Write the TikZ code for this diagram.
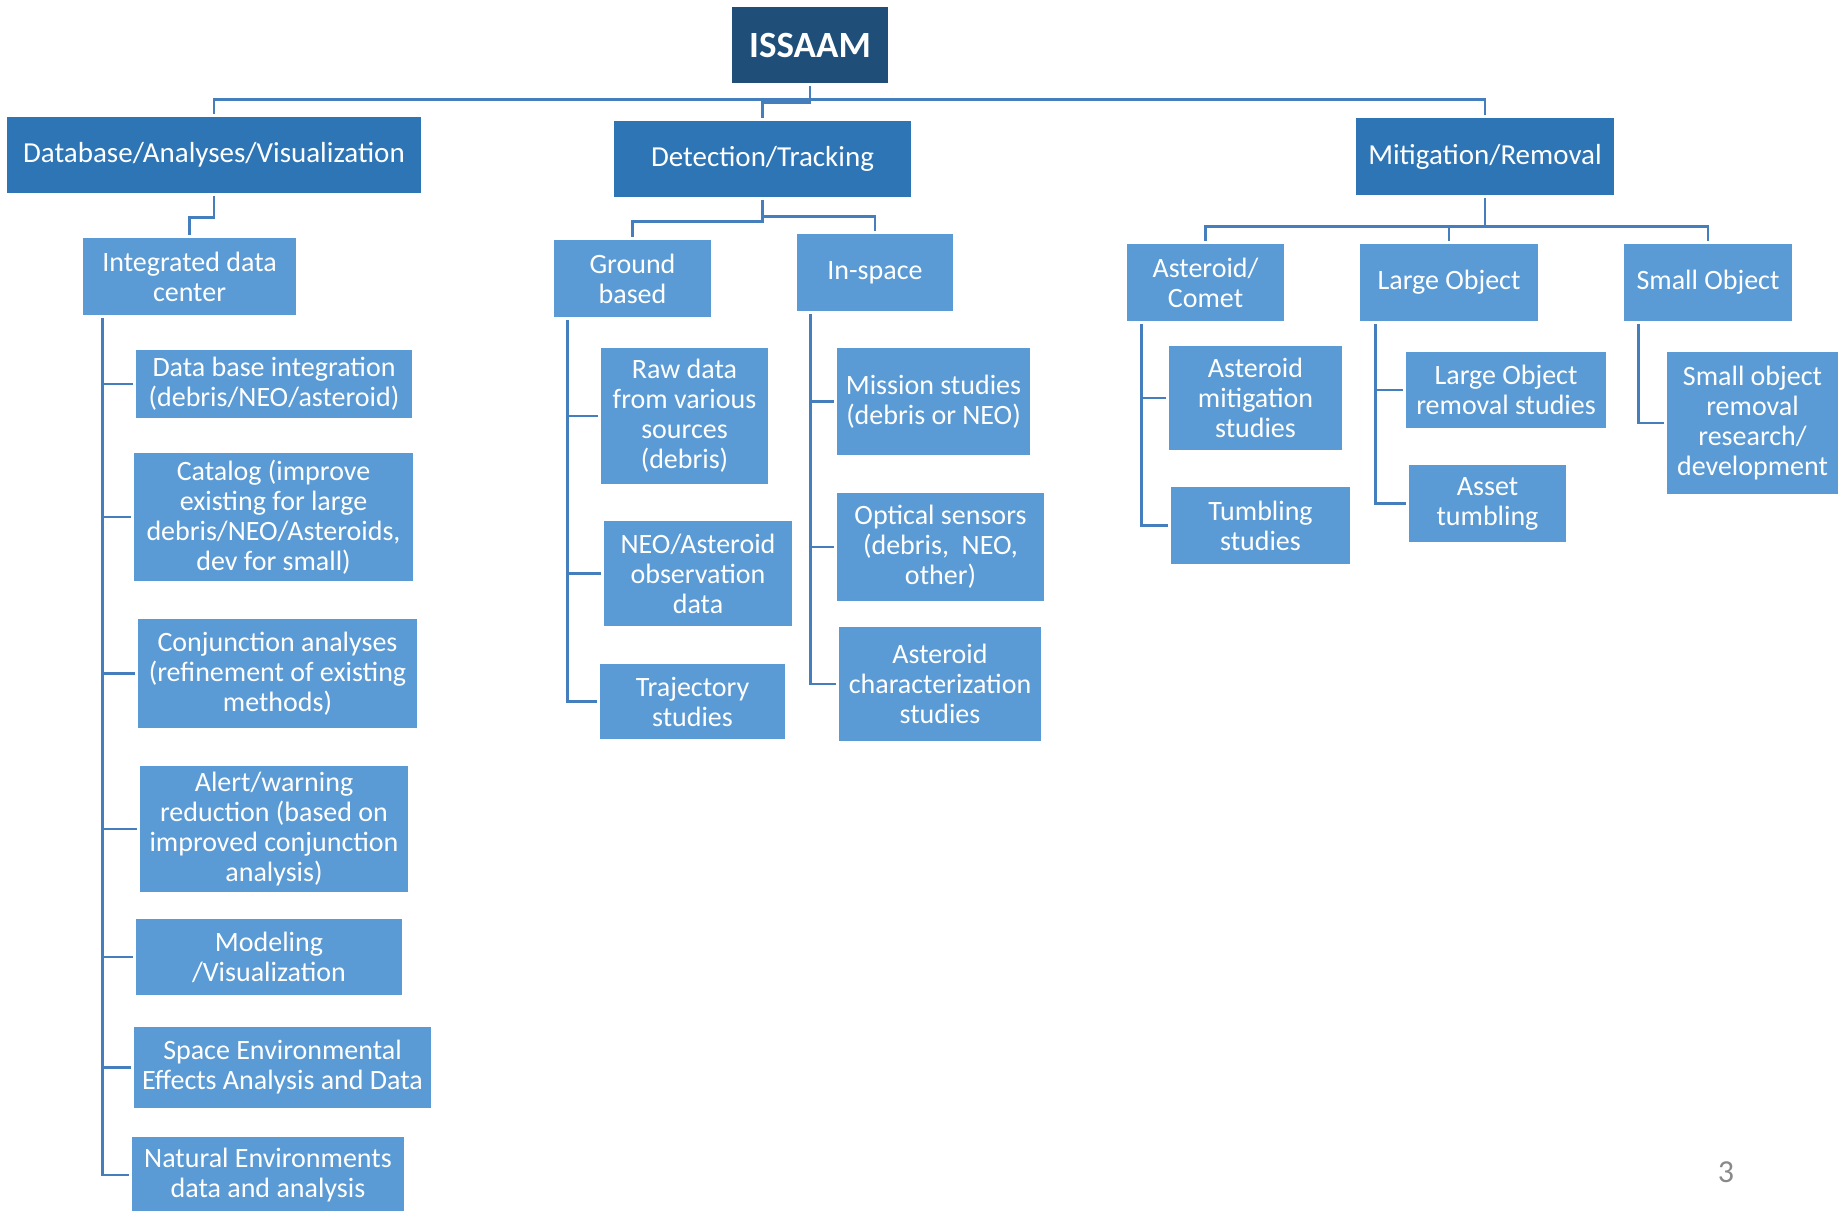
\documentclass[tikz,border=0pt]{standalone}
\usepackage{fontspec}
\setmainfont{Carlito}
\usepackage{xcolor}
\newcommand{\pxunit}{0.5pt}
\definecolor{topblue}{RGB}{31,78,121}
\definecolor{headblue}{RGB}{46,117,182}
\definecolor{leafblue}{RGB}{91,155,213}
\definecolor{linkblue}{RGB}{68,126,189}
\definecolor{pagegray}{RGB}{137,137,137}
\tikzset{
    sizesty/.style 2 args={minimum width=#1*\pxunit,minimum height=#2*\pxunit},
    topsty/.style={fill=topblue,rectangle,text=white,inner sep=0pt,align=center,font=\fontsize{18.5}{20}\selectfont\bfseries},
    headsty/.style={fill=headblue,rectangle,text=white,inner sep=0pt,align=center,font=\fontsize{14.5}{15.5}\selectfont},
    leafsty/.style={fill=leafblue,rectangle,text=white,inner sep=0pt,align=center,font=\fontsize{14}{15}\selectfont},
    linksty/.style={draw=linkblue,line width=1.3pt,shorten <=1.5pt,shorten >=1.5pt},
    pagesty/.style={text=pagegray,font=\fontsize{16}{18}\selectfont},
}

\begin{document}
\begin{tikzpicture}[x=\pxunit,y=-\pxunit]
  \useasboundingbox (0,0) rectangle (1845,1210);

  \node[topsty,sizesty={156}{76}] (issaam) at (810,45) {ISSAAM};

  \node[headsty,sizesty={414}{76}] (database) at (214,155) {Database/Analyses/Visualization};
  \node[headsty,sizesty={297}{76}] (detection) at (762.5,159) {Detection/Tracking};
  \node[headsty,sizesty={258}{77}] (mitigation) at (1485,156.5) {Mitigation/Removal};

  \node[leafsty,sizesty={213}{77}] (intdata) at (189.5,276.5) {Integrated data\\center};
  \node[leafsty,sizesty={157}{77}] (ground) at (632.5,278.5) {Ground\\based};
  \node[leafsty,sizesty={156}{77}] (inspace) at (875,272.5) {In-space};
  \node[leafsty,sizesty={157}{77}] (astcomet) at (1205.5,282.5) {Asteroid/\\Comet};
  \node[leafsty,sizesty={178}{77}] (largeobj) at (1449,282.5) {Large Object};
  \node[leafsty,sizesty={168}{77}] (smallobj) at (1708,282.5) {Small Object};

  \node[leafsty,sizesty={276}{68}] (dbint) at (274,384) {Data base integration\\(debris/NEO/asteroid)};
  \node[leafsty,sizesty={279}{128}] (catalog) at (273.5,517) {Catalog (improve\\existing for large\\debris/NEO/Asteroids,\\dev for small)};
  \node[leafsty,sizesty={279}{109}] (conjunct) at (277.5,673.5) {Conjunction analyses\\(refinement of existing\\methods)};
  \node[leafsty,sizesty={268}{126}] (alert) at (274,829) {Alert/warning\\reduction (based on\\improved conjunction\\analysis)};
  \node[leafsty,sizesty={266}{76}] (modeling) at (269,957) {Modeling\\/Visualization};
  \node[leafsty,sizesty={297}{81}] (spaceenv) at (282.5,1067.5) {Space Environmental\\Effects Analysis and Data};
  \node[leafsty,sizesty={272}{76}] (natenv) at (268,1175) {Natural Environments\\data and analysis};

  \node[leafsty,sizesty={167}{136}] (rawdata) at (684.5,416) {Raw data\\from various\\sources\\(debris)};
  \node[leafsty,sizesty={188}{105}] (neoobs) at (698,573.5) {NEO/Asteroid\\observation\\data};
  \node[leafsty,sizesty={185}{75}] (traject) at (692.5,701.5) {Trajectory\\studies};

  \node[leafsty,sizesty={193}{107}] (mission) at (933.5,401.5) {Mission studies\\(debris or NEO)};
  \node[leafsty,sizesty={207}{108}] (optical) at (940.5,547) {Optical sensors\\(debris,~ NEO,\\other)};
  \node[leafsty,sizesty={202}{114}] (astchar) at (940,684) {Asteroid\\characterization\\studies};

  \node[leafsty,sizesty={173}{104}] (astmitig) at (1255.5,398) {Asteroid\\mitigation\\studies};
  \node[leafsty,sizesty={179}{77}] (tumbling) at (1260.5,525.5) {Tumbling\\studies};
  \node[leafsty,sizesty={200}{76}] (loremoval) at (1506,390) {Large Object\\removal studies};
  \node[leafsty,sizesty={157}{77}] (assettumb) at (1487.5,503.5) {Asset\\tumbling};
  \node[leafsty,sizesty={171}{142}] (soremoval) at (1752.5,423) {Small object\\removal\\research/\\development};

  \node[pagesty] (pagenum) at (1726,1172) {3};

  \draw[linksty] (issaam.south) -- ++(0,16) -| (database.north);
  \draw[linksty] (issaam.south) -- ++(0,16) -| (mitigation.north);
  \draw[linksty] (issaam.south) -- ++(0,19) -| (detection.north);

  \draw[linksty] (database.south) -- ++(0,24) -| (intdata.north);
  \draw[linksty] (detection.south) -- ++(0,24) -| (ground.north);
  \draw[linksty] (detection.south) -- ++(0,19) -| (inspace.north);
  \draw[linksty] (mitigation.south) -- ++(0,31) -| (astcomet.north);
  \draw[linksty] (mitigation.south) -- ++(0,31) -| (largeobj.north);
  \draw[linksty] (mitigation.south) -- ++(0,31) -| (smallobj.north);

  \foreach \child in {dbint,catalog,conjunct,alert,modeling,spaceenv,natenv}
    \draw[linksty] ([shift={(20,0)}]intdata.south west) |- (\child.west);
  \foreach \child in {rawdata,neoobs,traject}
    \draw[linksty] ([shift={(14,0)}]ground.south west) |- (\child.west);
  \foreach \child in {mission,optical,astchar}
    \draw[linksty] ([shift={(14,0)}]inspace.south west) |- (\child.west);
  \foreach \child in {astmitig,tumbling}
    \draw[linksty] ([shift={(15,0)}]astcomet.south west) |- (\child.west);
  \foreach \child in {loremoval,assettumb}
    \draw[linksty] ([shift={(16,0)}]largeobj.south west) |- (\child.west);
  \draw[linksty] ([shift={(15,0)}]smallobj.south west) |- (soremoval.west);
\end{tikzpicture}
\end{document}
